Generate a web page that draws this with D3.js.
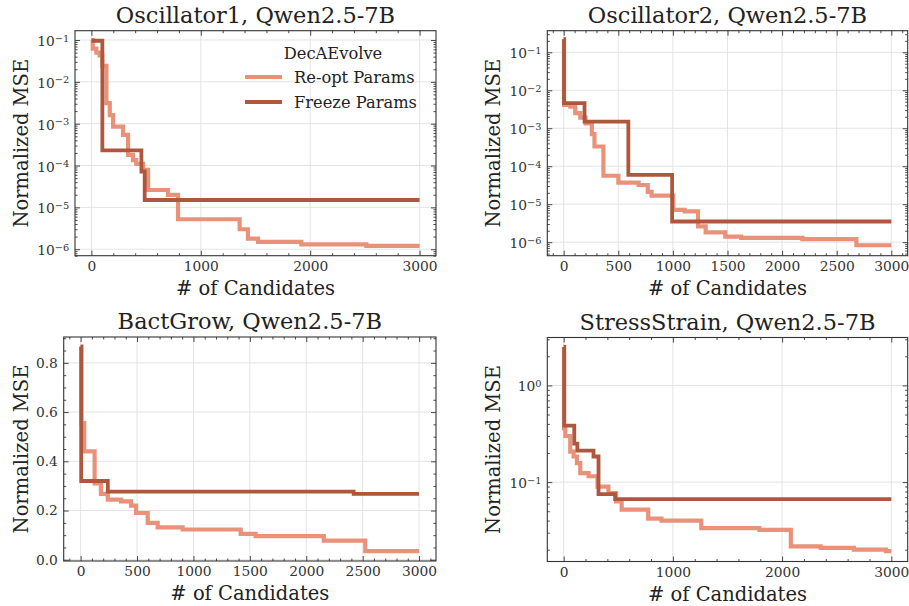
<!DOCTYPE html>
<html>
<head>
<meta charset="utf-8">
<script src="https://cdn.jsdelivr.net/npm/d3@7"></script>
<style>
  body { margin: 0; background: #fff; }
  text { font-family: "DejaVu Serif", serif; }
</style>
</head>
<body>
<svg id="chart" width="909" height="606"></svg>
<script>
// data: [# of candidates, best normalized MSE so far]
var osc1Reopt = [[0,0.1],[12,0.062],[45,0.05],[75,0.043],[100,0.024],[137,0.0031],[168,0.0016],[198,8.5e-4],[289,5.4e-4],[335,1.8e-4],[380,1.35e-4],[410,1.1e-4],[472,7.9e-5],[518,2.6e-5],[700,2.0e-5],[792,5.2e-6],[1355,3.0e-6],[1431,1.8e-6],[1523,1.5e-6],[1919,1.3e-6],[2513,1.2e-6],[3000,1.2e-6]];
var osc1Freeze = [[0,0.096],[100,2.3e-4],[457,7.2e-5],[487,1.5e-5],[3000,1.5e-5]];

var osc2Reopt = [[0,0.22],[3,4.1e-3],[61,3.7e-3],[106,2.5e-3],[152,1.9e-3],[200,1.35e-3],[258,7e-4],[282,3.3e-4],[364,5.6e-5],[501,3.7e-5],[686,3.2e-5],[770,2.1e-5],[805,1.67e-5],[1003,7.1e-6],[1108,6.5e-6],[1230,2.6e-6],[1300,1.8e-6],[1480,1.4e-6],[1625,1.3e-6],[2186,1.2e-6],[2680,8.3e-7],[3000,8.3e-7]];
var osc2Freeze = [[0,0.22],[3,4.6e-3],[191,1.5e-3],[592,5.9e-5],[993,3.5e-6],[3000,3.5e-6]];

var bactReopt = [[0,0.866],[8,0.555],[32,0.44],[124,0.31],[180,0.268],[241,0.244],[359,0.237],[447,0.22],[492,0.19],[595,0.15],[683,0.132],[904,0.123],[1419,0.105],[1551,0.096],[2155,0.078],[2523,0.035],[3000,0.035]];
var bactFreeze = [[0,0.866],[5,0.32],[241,0.277],[2420,0.268],[3000,0.268]];

var stressReopt = [[0,2.5],[3,0.36],[15,0.30],[60,0.207],[91,0.184],[121,0.157],[152,0.124],[228,0.115],[310,0.09],[410,0.077],[480,0.063],[531,0.052],[774,0.042],[896,0.040],[1260,0.0334],[1792,0.032],[2080,0.0216],[2353,0.0209],[2657,0.020],[2950,0.0193],[3000,0.0193]];
var stressFreeze = [[0,2.5],[5,0.383],[97,0.25],[125,0.212],[273,0.184],[319,0.075],[471,0.0667],[3000,0.0667]];

var xTicksBy1000 = [0,1000,2000,3000];
var xTicksBy500 = [0,500,1000,1500,2000,2500,3000];
var linTicks = [0,0.2,0.4,0.6,0.8];
var titles = ["Oscillator1, Qwen2.5-7B","Oscillator2, Qwen2.5-7B","BactGrow, Qwen2.5-7B","StressStrain, Qwen2.5-7B"];
var seriesNames = ["Re-opt Params","Freeze Params"];
var legendTitle = "DecAEvolve";

var colors = ["#EA9179","#AE573C"];
var widths = [4.2, 3.8];
var xDomain = [-150, 3150];

var svg = d3.select('#chart');

var panels = [
  {title: titles[0], series: [osc1Reopt, osc1Freeze], log: true, yDomain: [7.0e-7, 0.167],
   xMajor: xTicksBy1000, xStep: 200, box: [75, 30.7, 436, 255.7], ylabelX: 28.3, legend: true},
  {title: titles[1], series: [osc2Reopt, osc2Freeze], log: true, yDomain: [4.4e-7, 0.37],
   xMajor: xTicksBy500, xStep: 100, box: [547.3, 30.7, 907.7, 255.7], ylabelX: 500},
  {title: titles[2], series: [bactReopt, bactFreeze], log: false, yDomain: [-0.005, 0.905],
   yMajor: linTicks, yStep: 0.05, xMajor: xTicksBy500, xStep: 100, box: [63.7, 337, 436, 561], ylabelX: 28.3},
  {title: titles[3], series: [stressReopt, stressFreeze], log: true, yDomain: [0.0151, 3.13],
   xMajor: xTicksBy1000, xStep: 200, box: [547.3, 337.5, 907.7, 561.5], ylabelX: 500}
];

function logTicks(domain){
  var major = [], minor = [];
  var lo = Math.floor(Math.log10(domain[0])), hi = Math.ceil(Math.log10(domain[1]));
  for (var k = lo; k <= hi; k++){
    for (var m = 1; m < 10; m++){
      var v = m * Math.pow(10, k);
      if (v < domain[0] || v > domain[1]) continue;
      if (m == 1) major.push(v); else minor.push(v);
    }
  }
  return {major: major, minor: minor};
}

function stepTicks(domain, step, major){
  var out = [];
  var start = Math.ceil(domain[0] / step - 1e-9);
  for (var i = start; i * step <= domain[1] + 1e-9; i++){
    var v = +(i * step).toFixed(6);
    if (major.indexOf(v) < 0) out.push(v);
  }
  return out;
}

function styleAxis(sel){
  sel.attr('color', '#333').attr('font-family', null).attr('font-size', 13.8);
  sel.select('.domain').remove();
  sel.selectAll('.tick line').attr('stroke-width', 0.9);
}

function drawPanel(p, idx){
  var w = p.box[2] - p.box[0], h = p.box[3] - p.box[1];
  var g = svg.append('g').attr('transform', 'translate(' + p.box[0] + ',' + p.box[1] + ')');
  var x = d3.scaleLinear().domain(xDomain).range([0, w]);
  var y = (p.log ? d3.scaleLog() : d3.scaleLinear()).domain(p.yDomain).range([h, 0]);

  var yMajor, yMinor;
  if (p.log){
    var lt = logTicks(p.yDomain);
    yMajor = lt.major; yMinor = lt.minor;
  } else {
    yMajor = p.yMajor; yMinor = stepTicks(p.yDomain, p.yStep, p.yMajor);
  }
  var xMinor = stepTicks(xDomain, p.xStep, p.xMajor);

  // grid
  var grid = g.append('g').attr('stroke', '#e4e4e4').attr('stroke-width', 1);
  grid.selectAll('.gx').data(p.xMajor).enter().append('line')
    .attr('x1', function(d){ return x(d); }).attr('x2', function(d){ return x(d); })
    .attr('y1', 0).attr('y2', h);
  grid.selectAll('.gy').data(yMajor).enter().append('line')
    .attr('y1', function(d){ return y(d); }).attr('y2', function(d){ return y(d); })
    .attr('x1', 0).attr('x2', w);

  // lines
  var clipId = 'clip' + idx;
  g.append('clipPath').attr('id', clipId).append('rect').attr('width', w).attr('height', h);
  var line = d3.line()
    .x(function(d){ return x(d[0]); })
    .y(function(d){ return y(d[1]); })
    .curve(d3.curveStepAfter);
  g.append('g').attr('clip-path', 'url(#' + clipId + ')')
    .selectAll('path').data(p.series).enter().append('path')
    .attr('d', line)
    .attr('fill', 'none')
    .attr('stroke', function(d, i){ return colors[i]; })
    .attr('stroke-width', function(d, i){ return widths[i]; })
    .attr('stroke-linejoin', 'miter');

  // axes: major + minor, inward ticks on all four sides
  var fmtX = d3.format('d');
  var bottom = g.append('g').attr('transform', 'translate(0,' + h + ')')
    .call(d3.axisBottom(x).tickValues(p.xMajor).tickSize(-5).tickSizeOuter(0).tickPadding(5.6).tickFormat(fmtX));
  styleAxis(bottom);
  var bottomMinor = g.append('g').attr('transform', 'translate(0,' + h + ')')
    .call(d3.axisBottom(x).tickValues(xMinor).tickSize(-2.5).tickSizeOuter(0).tickFormat(''));
  styleAxis(bottomMinor);
  var top = g.append('g')
    .call(d3.axisTop(x).tickValues(p.xMajor).tickSize(-5).tickSizeOuter(0).tickFormat(''));
  styleAxis(top);
  var topMinor = g.append('g')
    .call(d3.axisTop(x).tickValues(xMinor).tickSize(-2.5).tickSizeOuter(0).tickFormat(''));
  styleAxis(topMinor);

  var left = g.append('g')
    .call(d3.axisLeft(y).tickValues(yMajor).tickSize(-5).tickSizeOuter(0).tickPadding(5.8)
      .tickFormat(p.log ? function(){ return ''; } : d3.format('.1f')));
  styleAxis(left);
  if (p.log){
    left.selectAll('.tick text').each(function(d){
      var t = d3.select(this);
      t.text('10').attr('dy', '0.4em');
      t.append('tspan').attr('dy', -4.4).attr('font-size', 9.8)
        .text(String(Math.round(Math.log10(d))).replace('-', '\u2212'));
    });
  }
  var leftMinor = g.append('g')
    .call(d3.axisLeft(y).tickValues(yMinor).tickSize(-2.5).tickSizeOuter(0).tickFormat(''));
  styleAxis(leftMinor);
  var right = g.append('g').attr('transform', 'translate(' + w + ',0)')
    .call(d3.axisRight(y).tickValues(yMajor).tickSize(-5).tickSizeOuter(0).tickFormat(''));
  styleAxis(right);
  var rightMinor = g.append('g').attr('transform', 'translate(' + w + ',0)')
    .call(d3.axisRight(y).tickValues(yMinor).tickSize(-2.5).tickSizeOuter(0).tickFormat(''));
  styleAxis(rightMinor);

  // spines
  g.append('rect').attr('width', w).attr('height', h)
    .attr('fill', 'none').attr('stroke', '#333').attr('stroke-width', 1.1);

  // texts
  g.append('text').attr('x', w / 2).attr('y', -8).attr('text-anchor', 'middle')
    .attr('font-size', 22.5).attr('fill', '#222').text(p.title);
  g.append('text').attr('x', w / 2).attr('y', h + 39).attr('text-anchor', 'middle')
    .attr('font-size', 19.5).attr('fill', '#222').text('# of Candidates');
  svg.append('text')
    .attr('transform', 'translate(' + p.ylabelX + ',' + (p.box[1] + h / 2) + ') rotate(-90)')
    .attr('text-anchor', 'middle').attr('font-size', 19.5).attr('fill', '#222')
    .text('Normalized MSE');

  if (p.legend){
    var lg = g.append('g').attr('transform', 'translate(' + (245 - p.box[0]) + ',' + (59 - p.box[1]) + ')');
    lg.append('text').attr('x', 88).attr('y', 0).attr('text-anchor', 'middle')
      .attr('font-size', 16.3).attr('fill', '#222').text(legendTitle);
    var items = lg.selectAll('.item').data(seriesNames).enter().append('g')
      .attr('transform', function(d, i){ return 'translate(0,' + (18 + i * 25) + ')'; });
    items.append('line').attr('x1', 0).attr('x2', 37).attr('y1', 0).attr('y2', 0)
      .attr('stroke', function(d, i){ return colors[i]; }).attr('stroke-width', 4);
    items.append('text').attr('x', 49).attr('y', 5.8).attr('font-size', 16.3).attr('fill', '#222')
      .text(function(d){ return d; });
  }
}

panels.forEach(drawPanel);
</script>
</body>
</html>
